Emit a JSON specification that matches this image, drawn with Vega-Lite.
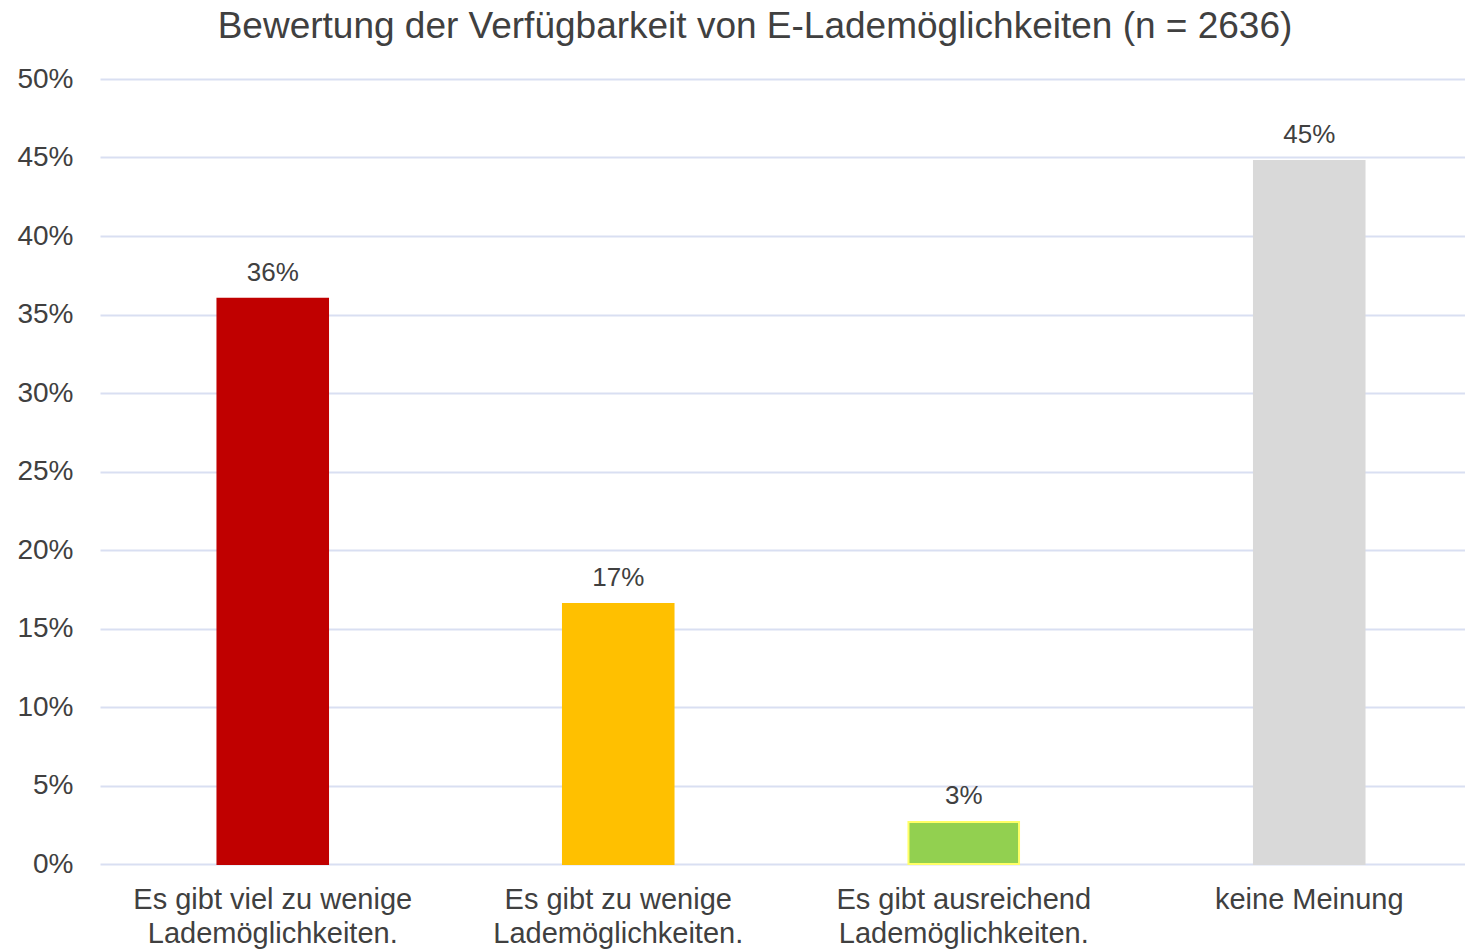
{
  "$schema": "https://vega.github.io/schema/vega-lite/v6.json",
  "autosize": {"type": "none"},
  "width": 1382,
  "height": 785,
  "padding": {"left": 100, "right": 0, "top": 79, "bottom": 86},
  "background": "white",
  "config": {
    "font": "Liberation Sans",
    "view": {"stroke": null}
  },
  "title": {
    "text": "Bewertung der Verfügbarkeit von E-Lademöglichkeiten (n = 2636)",
    "fontSize": 37,
    "fontWeight": "normal",
    "color": "#404040",
    "offset": 19,
    "dx": -36,
    "anchor": "middle",
    "frame": "group"
  },
  "data": {
    "values": [
      {"kategorie": "Es gibt viel zu wenige|Lademöglichkeiten.", "anteil": 0.3600, "label": "36%", "farbe": "#C00000", "rand": "#C00000"},
      {"kategorie": "Es gibt zu wenige|Lademöglichkeiten.", "anteil": 0.1656, "label": "17%", "farbe": "#FFC000", "rand": "#FFC000"},
      {"kategorie": "Es gibt ausreichend|Lademöglichkeiten.", "anteil": 0.0268, "label": "3%", "farbe": "#92D050", "rand": "#FFFF66"},
      {"kategorie": "keine Meinung", "anteil": 0.4478, "label": "45%", "farbe": "#D9D9D9", "rand": "#D9D9D9"}
    ]
  },
  "encoding": {
    "x": {
      "field": "kategorie",
      "type": "nominal",
      "sort": null,
      "scale": {"paddingInner": 0.68, "paddingOuter": 0.34},
      "axis": {
        "title": null,
        "labelAngle": 0,
        "labelExpr": "split(datum.label, '|')",
        "labelFontSize": 29,
        "labelColor": "#404040",
        "labelLineHeight": 34,
        "labelPadding": 21,
        "ticks": false,
        "domain": false,
        "labelLimit": 400
      }
    },
    "y": {
      "field": "anteil",
      "type": "quantitative",
      "scale": {"domain": [0, 0.5]},
      "axis": {
        "title": null,
        "format": ".0%",
        "values": [0, 0.05, 0.1, 0.15, 0.2, 0.25, 0.3, 0.35, 0.4, 0.45, 0.5],
        "labelFontSize": 28,
        "labelColor": "#404040",
        "labelPadding": 27,
        "ticks": false,
        "domain": false,
        "grid": true,
        "gridColor": "#D9DFF2",
        "gridWidth": 2
      }
    }
  },
  "layer": [
    {
      "mark": {"type": "bar", "strokeWidth": 2},
      "encoding": {
        "fill": {"field": "farbe", "type": "nominal", "scale": null, "legend": null},
        "stroke": {"field": "rand", "type": "nominal", "scale": null, "legend": null}
      }
    },
    {
      "mark": {"type": "text", "dy": -26, "fontSize": 26, "color": "#404040"},
      "encoding": {
        "text": {"field": "label", "type": "nominal"}
      }
    }
  ]
}
